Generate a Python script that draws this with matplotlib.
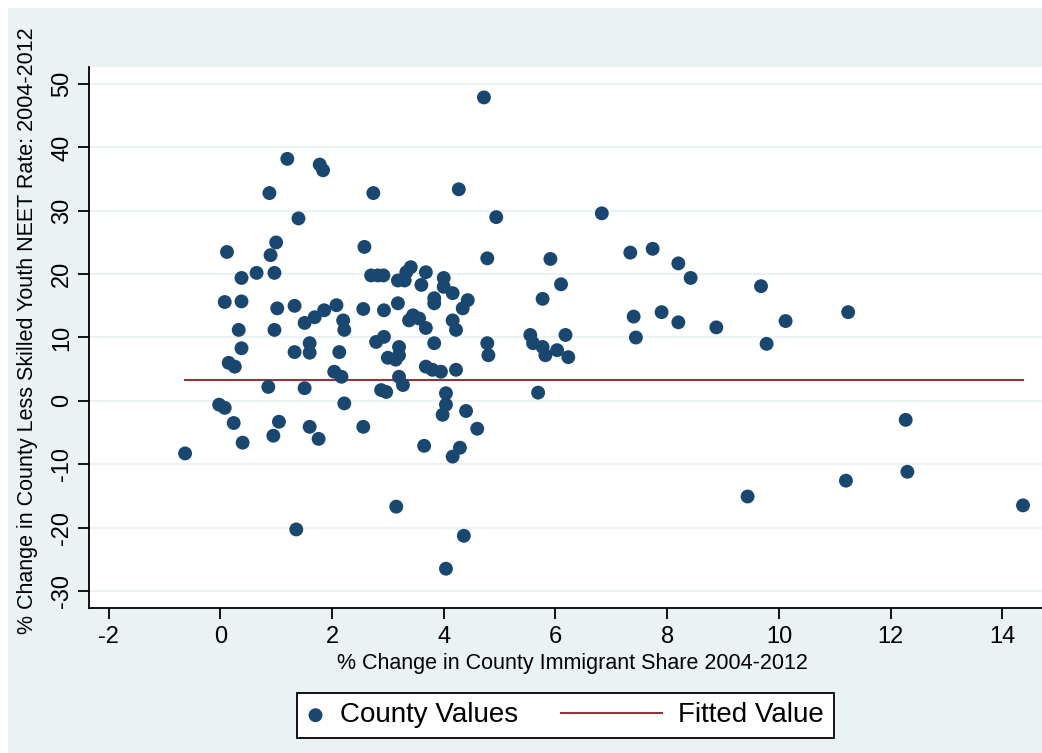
import numpy as np
import matplotlib
matplotlib.use("Agg")
import matplotlib.pyplot as plt
from matplotlib.patches import Rectangle
from matplotlib.legend_handler import HandlerPathCollection, HandlerLine2D

plt.rcParams['font.family'] = ['Liberation Sans', 'DejaVu Sans']
plt.rcParams['axes.unicode_minus'] = False

# county values: % change in immigrant share (x) vs % change in NEET rate (y)
imm_change = [
    -0.63, -0.02, 0.08, 0.08, 0.12, 0.15, 0.26, 0.24, 0.33, 0.38, 0.38, 0.38, 0.40,
    0.65, 0.86, 0.88, 0.90, 0.95, 0.97, 0.97, 1.00, 1.02, 1.05, 1.20, 1.33, 1.33,
    1.36, 1.40, 1.51, 1.51, 1.60, 1.60, 1.60, 1.69, 1.76, 1.78, 1.84, 1.86, 2.04,
    2.08, 2.13, 2.17, 2.20, 2.22, 2.22, 2.56, 2.56, 2.58, 2.70, 2.74, 2.79, 2.82,
    2.88, 2.92, 2.93, 2.93, 2.97, 3.00, 3.14, 3.15, 3.18, 3.18, 3.20, 3.20, 3.20,
    3.27, 3.30, 3.33, 3.38, 3.41, 3.45, 3.56, 3.60, 3.65, 3.68, 3.68, 3.68, 3.80,
    3.83, 3.83, 3.83, 3.95, 3.98, 4.00, 4.00, 4.04, 4.04, 4.04, 4.16, 4.16, 4.16,
    4.22, 4.22, 4.27, 4.29, 4.34, 4.36, 4.40, 4.43, 4.60, 4.72, 4.78, 4.78, 4.80,
    4.94, 5.55, 5.60, 5.69, 5.77, 5.77, 5.82, 5.91, 6.03, 6.10, 6.18, 6.23, 6.83,
    7.34, 7.40, 7.44, 7.74, 7.90, 8.20, 8.20, 8.42, 8.88, 9.44, 9.68, 9.78, 10.12,
    11.20, 11.24, 12.27, 12.30, 14.37,
]
neet_change = [
    -8.3, -0.6, -1.1, 15.6, 23.5, 6.0, 5.4, -3.5, 11.2, 19.4, 15.7, 8.3, -6.6,
    20.2, 2.2, 32.8, 23.0, -5.5, 20.2, 11.2, 25.0, 14.6, -3.3, 38.2, 15.0, 7.7,
    -20.3, 28.8, 12.3, 2.0, 9.1, 7.6, -4.1, 13.2, -6.0, 37.3, 36.4, 14.3, 4.6,
    15.1, 7.7, 3.8, 12.7, 11.2, -0.4, 14.5, -4.1, 24.3, 19.8, 32.8, 9.3, 19.8,
    1.7, 19.8, 14.3, 10.1, 1.4, 6.8, 6.5, -16.7, 15.4, 19.0, 8.5, 7.2, 3.8,
    2.5, 19.0, 20.3, 12.7, 21.1, 13.5, 13.0, 18.3, -7.1, 20.3, 11.5, 5.4, 4.9,
    9.1, 16.2, 15.4, 4.6, -2.2, 19.4, 18.0, 1.2, -0.6, -26.5, 17.0, 12.7, -8.8,
    11.2, 4.9, 33.4, -7.4, 14.6, -21.3, -1.6, 15.9, -4.4, 47.9, 22.5, 9.1, 7.2,
    29.0, 10.4, 9.1, 1.3, 16.1, 8.5, 7.2, 22.4, 8.0, 18.4, 10.4, 6.9, 29.6,
    23.4, 13.3, 10.0, 24.0, 14.0, 21.7, 12.4, 19.4, 11.6, -15.1, 18.1, 9.0, 12.6,
    -12.6, 14.0, -3.0, -11.2, -16.5,
]

# fitted regression line (flat)
fit_intercept = 3.3
fit_slope = 0.0

x_ticks = [-2, 0, 2, 4, 6, 8, 10, 12, 14]
y_ticks = [-30, -20, -10, 0, 10, 20, 30, 40, 50]

navy = "#1a476f"
maroon = "#90353b"
region_bg = "#eaf2f3"

fig = plt.figure(figsize=(10.42, 7.53), dpi=100, facecolor="white")
fig.patches.append(Rectangle((8 / 1042, 0), 1, (753 - 8) / 753,
                             transform=fig.transFigure, facecolor=region_bg,
                             edgecolor="none", zorder=-10))

ax = fig.add_axes([89 / 1042, (753 - 608) / 753, (1042 - 89) / 1042, (608 - 67) / 753])
ax.set_facecolor("white")

pts = ax.scatter(imm_change, neet_change, s=100, color=navy, edgecolors="none",
                 zorder=3, label="County Values")

fx = np.array([min(imm_change), max(imm_change)])
fit_line, = ax.plot(fx, fit_intercept + fit_slope * fx, color=maroon, lw=1.5,
                    zorder=2, label="Fitted Value")

ax.set_xlim(-2.35, 14.71)
ax.set_ylim(-32.7, 52.7)
ax.set_xticks(x_ticks)
ax.set_yticks(y_ticks)
ax.yaxis.grid(True, color=region_bg, lw=1.5)
ax.set_axisbelow(True)

for s in ["top", "right"]:
    ax.spines[s].set_visible(False)
for s in ["left", "bottom"]:
    ax.spines[s].set_linewidth(1.3)
    ax.spines[s].set_color("black")

ax.tick_params(axis="both", length=8, width=1.3, labelsize=17, colors="black")
ax.tick_params(axis="x", pad=5)
plt.setp(ax.get_yticklabels(), rotation=90, va="center")

ax.set_xlabel("% Change in County Immigrant Share 2004-2012", fontsize=15.5)
ax.xaxis.set_label_coords(0.507, -0.083)
ax.set_ylabel("% Change in County Less Skilled Youth NEET Rate: 2004-2012", fontsize=15.5)
ax.yaxis.set_label_coords(-0.054, 0.512)

# short handle for the marker, the line handle stretched to the left
leg = ax.legend(handles=[pts, fit_line], loc="center",
                bbox_to_anchor=(565.5 / 1042, (753 - 715.5) / 753),
                bbox_transform=fig.transFigure, ncol=2, fontsize=20, frameon=True,
                fancybox=False, edgecolor="black", framealpha=1,
                handlelength=0.61, handletextpad=0.58, columnspacing=4.57,
                borderpad=0.35,
                handler_map={pts: HandlerPathCollection(),
                             fit_line: HandlerLine2D(xpad=-3.02)})
leg.get_frame().set_linewidth(1.3)

fig.savefig("out.png", dpi=100, facecolor=fig.get_facecolor())
